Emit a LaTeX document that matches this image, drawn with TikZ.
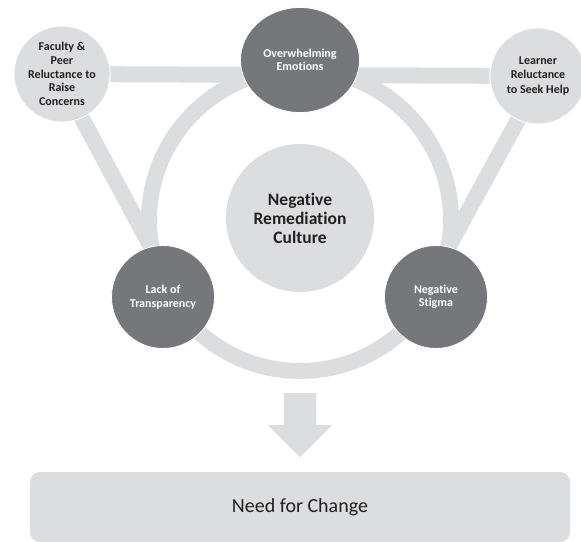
\documentclass[tikz,border=0pt]{standalone}
\usepackage{fontspec}
\setmainfont{Carlito}[Ligatures=CommonOff]
\usetikzlibrary{shapes.geometric,backgrounds}
\definecolor{lightgr}{HTML}{DCDDDE}
\definecolor{darkgr}{HTML}{76777B}
\definecolor{txtgr}{HTML}{231F20}
\tikzset{
    outer/.style={circle, fill=lightgr, draw=white, line width=0.8pt, minimum size=96pt, inner sep=0pt,
        align=center, text=txtgr, font=\bfseries\fontsize{12}{13.6}\selectfont},
    inner/.style={circle, fill=darkgr, draw=white, line width=0.8pt, minimum size=103pt, inner sep=0pt,
        align=center, text=white, font=\bfseries\fontsize{12}{13.5}\selectfont},
    band/.style={draw=lightgr, line width=16pt}
}
\begin{document}
\begin{tikzpicture}[x=1pt, y=-1pt]
                \useasboundingbox (0,0) rectangle (581,541);

                \node[circle, fill=lightgr, minimum size=148pt, align=center, text=txtgr,
                    font=\bfseries\fontsize{17.5}{19}\selectfont] (culture) at (300,218) {Negative\\Remediation\\Culture};

                \node[outer] (faculty) at (62,74) {Faculty \&\\Peer\\Reluctance to\\Raise\\Concerns};
                \node[outer, font=\bfseries\fontsize{12}{14.5}\selectfont] (learner) at (538,76) {Learner\\Reluctance\\to Seek Help};

                \node[inner, ellipse, minimum width=119pt, minimum height=105pt] (emotions) at (300,60) {Overwhelming\\Emotions};
                \node[inner] (lack) at (163,297) {Lack of\\Transparency};
                \node[inner] (stigma) at (436,297) {Negative\\Stigma};

                % bands behind the circles
                \begin{scope}[on background layer]
                \draw[band] (faculty) -- (learner);
                \draw[band] ([xshift=-4pt]faculty.center) -- ([xshift=15pt]lack.center);
                \draw[band] ([xshift=4pt]learner.center) -- ([xshift=-15pt]stigma.center);
                \draw[band] ([yshift=-2pt]culture.center) circle (151pt);
                \end{scope}

                \fill[lightgr] (284,393) -- (316,393) -- (316,425) -- (332,425) -- (300,457) -- (268,425) -- (284,425) -- cycle;

                \node[rectangle, rounded corners=10pt, fill=lightgr, minimum width=540pt, minimum height=70pt,
                    text=txtgr, font=\fontsize{20}{23}\selectfont] (change) at (300,507) {Need for Change};
            \end{tikzpicture}
\end{document}
